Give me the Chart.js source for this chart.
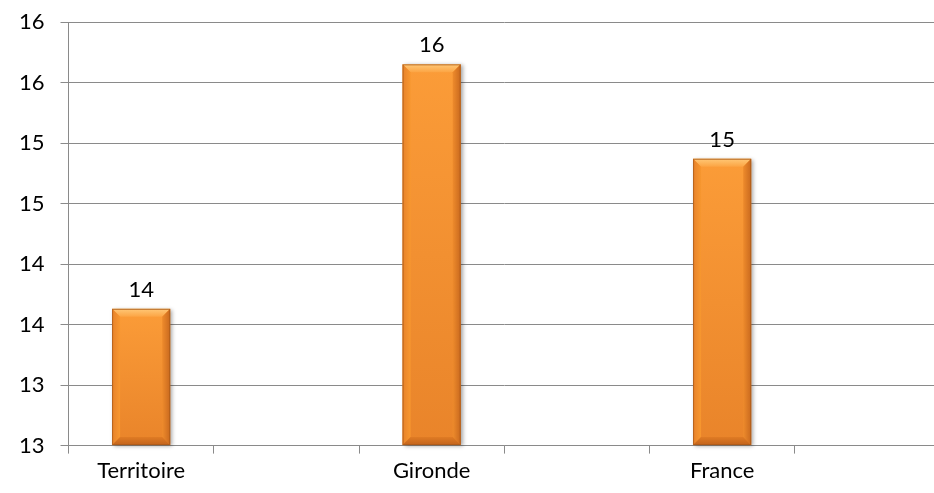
<!DOCTYPE html>
<html>
<head>
<meta charset="utf-8">
<script src="https://cdn.jsdelivr.net/npm/chart.js@4/dist/chart.umd.min.js"></script>
<style>
  html, body { margin: 0; padding: 0; background: #fff; overflow: hidden; }
  #wrap { width: 940px; height: 493px; position: relative; }
</style>
</head>
<body>
<div id="wrap"><canvas id="c"></canvas></div>
<script>
// Zones compared
const categories = ['Territoire', 'Gironde', 'France'];
// Indicator value per zone
const values = [13.93, 15.95, 15.17];
// Value-axis tick positions (labels shown as whole numbers)
const tickValues = [12.8, 13.3, 13.8, 14.3, 14.8, 15.3, 15.8, 16.3];

// Each zone is followed by an empty slot, so bars sit in every other column
const labels = categories.flatMap(c => [c, '']);
const data = values.flatMap(v => [v, null]);

const FONT = 'Lato, "Open Sans", sans-serif';
const GRID = '#8a8a8a';

// Beveled orange bars + value labels on top
const bevelPlugin = {
  id: 'bevel',
  afterDatasetsDraw(chart) {
    const ctx = chart.ctx;
    const area = chart.chartArea;
    const meta = chart.getDatasetMeta(0);
    meta.data.forEach((bar, i) => {
      const v = data[i];
      if (v === null || v === undefined) return;
      const p = bar.getProps(['x', 'y', 'base', 'width'], true);
      const l = p.x - p.width / 2, r = p.x + p.width / 2;
      const t = p.y, b = Math.min(p.base, area.bottom);
      const s = 8;
      ctx.save();
      // shadow + body
      ctx.shadowColor = 'rgba(0,0,0,0.35)';
      ctx.shadowBlur = 4;
      ctx.shadowOffsetX = 2;
      ctx.shadowOffsetY = 1;
      const body = ctx.createLinearGradient(0, t, 0, b);
      body.addColorStop(0, '#FB9C38');
      body.addColorStop(1, '#E9842A');
      ctx.fillStyle = body;
      ctx.fillRect(l, t, r - l, b - t);
      ctx.restore();

      ctx.save();
      // top bevel
      const tg = ctx.createLinearGradient(0, t, 0, t + s);
      tg.addColorStop(0, '#FFC877');
      tg.addColorStop(1, '#FCA443');
      ctx.fillStyle = tg;
      ctx.beginPath();
      ctx.moveTo(l, t); ctx.lineTo(r, t); ctx.lineTo(r - s, t + s); ctx.lineTo(l + s, t + s);
      ctx.closePath(); ctx.fill();
      // left bevel
      const lg = ctx.createLinearGradient(l, 0, l + s, 0);
      lg.addColorStop(0, '#E7822A');
      lg.addColorStop(1, '#F7972F');
      ctx.fillStyle = lg;
      ctx.beginPath();
      ctx.moveTo(l, t); ctx.lineTo(l + s, t + s); ctx.lineTo(l + s, b - s); ctx.lineTo(l, b);
      ctx.closePath(); ctx.fill();
      // right bevel
      const rg = ctx.createLinearGradient(r - s, 0, r, 0);
      rg.addColorStop(0, '#EE8B2C');
      rg.addColorStop(1, '#C9691E');
      ctx.fillStyle = rg;
      ctx.beginPath();
      ctx.moveTo(r, t); ctx.lineTo(r, b); ctx.lineTo(r - s, b - s); ctx.lineTo(r - s, t + s);
      ctx.closePath(); ctx.fill();
      // bottom bevel
      const bg = ctx.createLinearGradient(0, b - s, 0, b);
      bg.addColorStop(0, '#DF7B24');
      bg.addColorStop(1, '#C2631C');
      ctx.fillStyle = bg;
      ctx.beginPath();
      ctx.moveTo(l, b); ctx.lineTo(r, b); ctx.lineTo(r - s, b - s); ctx.lineTo(l + s, b - s);
      ctx.closePath(); ctx.fill();
      // thin outline
      ctx.strokeStyle = 'rgba(170,90,25,0.8)';
      ctx.lineWidth = 1;
      ctx.strokeRect(l + 0.5, t + 0.5, r - l - 1, b - t - 1);
      ctx.restore();

      // value label
      ctx.save();
      ctx.fillStyle = '#000';
      ctx.font = '22px ' + FONT;
      ctx.textAlign = 'center';
      ctx.textBaseline = 'middle';
      ctx.fillText(Math.round(v).toString(), p.x, t - 19);
      ctx.restore();
    });
  }
};

new Chart(document.getElementById('c'), {
  type: 'bar',
  data: {
    labels,
    datasets: [{
      data,
      base: tickValues[0],
      backgroundColor: 'rgba(0,0,0,0)',
      borderWidth: 0,
      categoryPercentage: 1,
      barPercentage: 0.4
    }]
  },
  options: {
    responsive: true,
    maintainAspectRatio: false,
    animation: false,
    events: [],
    layout: { padding: { left: 3, top: 0, right: 0, bottom: 5 } },
    plugins: { legend: { display: false }, tooltip: { enabled: false } },
    scales: {
      x: {
        offset: true,
        grid: { offset: true, drawOnChartArea: false, drawTicks: true, tickLength: 8, color: GRID },
        border: { color: GRID, width: 1 },
        ticks: { color: '#000', font: { family: FONT, size: 22 }, padding: 4, maxRotation: 0, autoSkip: false }
      },
      y: {
        min: tickValues[0],
        max: tickValues[tickValues.length - 1],
        afterBuildTicks(scale) { scale.ticks = tickValues.map(v => ({ value: v })); },
        afterFit(scale) { scale.paddingTop = 22; },
        grid: { color: GRID, lineWidth: 1, tickLength: 8 },
        border: { color: GRID, width: 1 },
        ticks: {
          color: '#000',
          font: { family: FONT, size: 22 },
          padding: 16,
          callback: v => Math.round(v).toString()
        }
      }
    }
  },
  plugins: [bevelPlugin]
});
</script>
</body>
</html>
